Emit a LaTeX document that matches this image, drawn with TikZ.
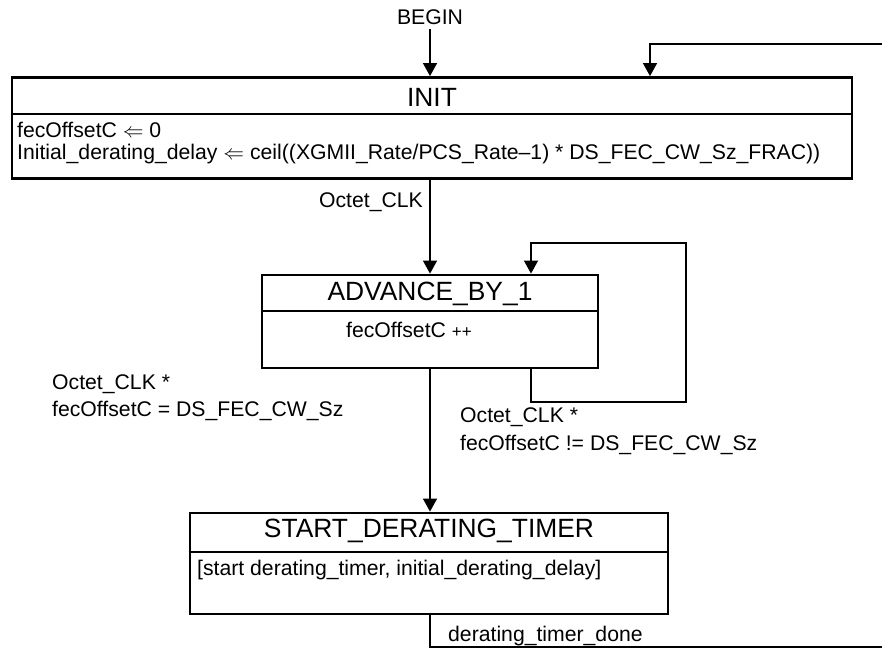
\documentclass[tikz,border=0pt]{standalone}
\usepackage{fontspec}
\setmainfont{Liberation Sans}
\usetikzlibrary{arrows.meta,calc}
\tikzset{
  statebox/.style={draw, line width=2.8pt, rectangle, inner sep=0pt},
  divider/.style={line width=2.8pt},
  conn/.style={line width=1.3pt},
  arr/.style={conn, -{Triangle[length=13pt,width=14pt]}},
  titletext/.style={font=\fontsize{26.4}{30}\selectfont, inner sep=0pt},
  bodytext/.style={font=\fontsize{21.2}{24}\selectfont, inner sep=0pt, anchor=west},
  lbltext/.style={font=\fontsize{21.2}{24}\selectfont, inner sep=0pt}
}
\begin{document}
\begin{tikzpicture}[x=1pt,y=-1pt]
\useasboundingbox (0,0) rectangle (882,652);

% INIT
\node[statebox, minimum width=840pt, minimum height=101pt] (init) at (432,128) {};
\draw[divider] (init.west |- 0,114) -- (init.east |- 0,114);
\node[titletext] (initT) at (432,97) {INIT};
\node[bodytext] (init1) at (17,130) {fecOffsetC $\Leftarrow$ 0};
\node[bodytext] (init2) at (17,154) {Initial\_derating\_delay $\Leftarrow$ ceil((XGMII\_Rate/PCS\_Rate–1) * DS\_FEC\_CW\_Sz\_FRAC))};

% ADVANCE_BY_1
\node[statebox, minimum width=336pt, minimum height=93pt] (adv) at (430,321.5) {};
\draw[divider] (adv.west |- 0,311) -- (adv.east |- 0,311);
\node[titletext] (advT) at (430,294) {ADVANCE\_BY\_1};
\node[bodytext] (adv1) at (346,330) {fecOffsetC {\fontsize{17}{18}\selectfont ++}};

% START_DERATING_TIMER
\node[statebox, minimum width=478pt, minimum height=101pt] (sdt) at (429,563.5) {};
\draw[divider] (sdt.west |- 0,552) -- (sdt.east |- 0,552);
\node[titletext] (sdtT) at (429,531) {START\_DERATING\_TIMER};
\node[bodytext] (sdt1) at (197,570) {[start derating\_timer, initial\_derating\_delay]};

% labels
\node[lbltext] (begin) at (430,17) {BEGIN};
\node[lbltext, anchor=east] (lclk) at (423,202) {Octet\_CLK};
\node[bodytext] (l1a) at (52,384) {Octet\_CLK *};
\node[bodytext] (l1b) at (52,411) {fecOffsetC = DS\_FEC\_CW\_Sz};
\node[bodytext] (l2a) at (460,417) {Octet\_CLK *};
\node[bodytext] (l2b) at (460,445) {fecOffsetC != DS\_FEC\_CW\_Sz};
\node[bodytext] (ldone) at (448,636) {derating\_timer\_done};

% coordinates
\coordinate (topr) at (882,44);
\coordinate (loopx) at (650,0);
\coordinate (advloop) at (531,0);
\coordinate (doner) at (882,647);

% connectors
\draw[arr] (430,29) -- (430,29 |- init.north);
\draw[arr] (topr) -| (loopx |- init.north);
\draw[arr] (init.south -| 430,0) -- (adv.north -| 430,0);
\draw[arr] (adv.south -| 430,0) -- (sdt.north -| 430,0);
\draw[arr] (advloop |- adv.south) -- (531,402) -- (686,402) -- (686,243) -- (531,243) -- (advloop |- adv.north);
\draw[conn] (sdt.south -| 430,0) -- (430,647) -- (doner);
\end{tikzpicture}
\end{document}
